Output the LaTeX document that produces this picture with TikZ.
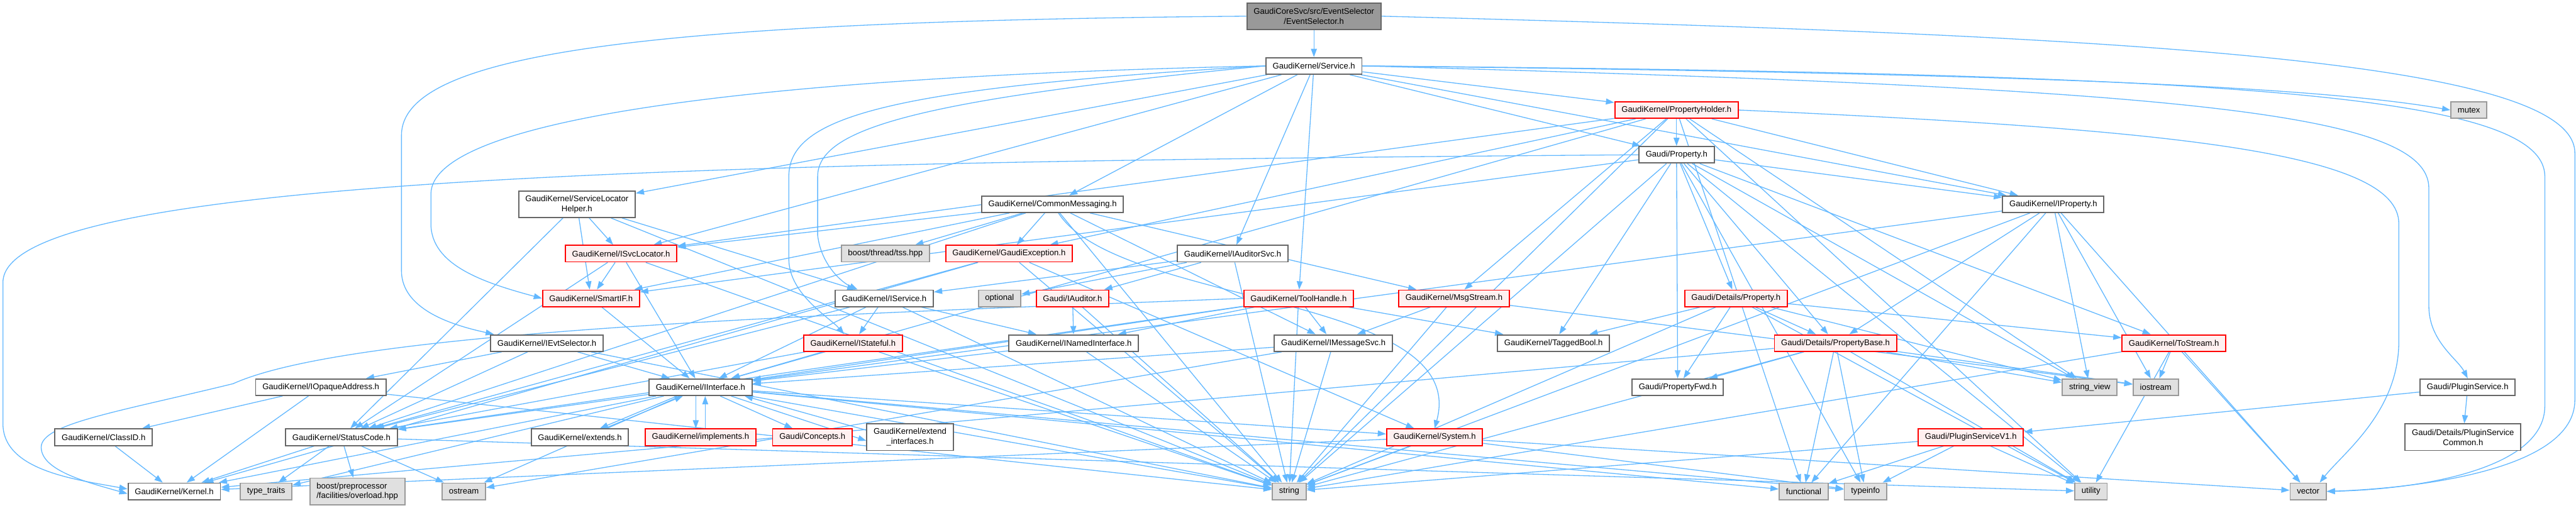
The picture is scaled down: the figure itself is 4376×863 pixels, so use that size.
\documentclass[tikz,border=0pt]{standalone}
\usepackage{fontspec}
\setmainfont{Liberation Sans}
\usetikzlibrary{arrows.meta,backgrounds}
\definecolor{edgeblue}{HTML}{63B8FF}
\definecolor{grey40}{HTML}{666666}
\definecolor{grey60}{HTML}{999999}
\definecolor{redfill}{HTML}{FFF0F0}
\definecolor{sysfill}{HTML}{E0E0E0}
\begin{document}
\begin{tikzpicture}[x=1pt, y=-1pt,
  box/.style={draw=grey40, fill=white, line width=2pt, font=\fontsize{14}{17}\selectfont,
    inner xsep=11.5pt, inner ysep=0pt, minimum height=28pt, align=center},
  twoline/.style={minimum height=45pt},
  redbox/.style={box, draw=red, fill=redfill},
  sysbox/.style={box, draw=grey60, fill=sysfill},
  topbox/.style={box, draw=grey40, fill=grey60},
  dep/.style={draw=edgeblue, line width=1.4pt, -{Triangle[length=14pt,width=10pt]}}]
  \useasboundingbox (0,0) rectangle (4376,863);
  % rows from top to bottom
  \node[topbox, twoline] (title) at (2232,27.5) {GaudiCoreSvc/src/EventSelector\\/EventSelector.h};
  \node[box] (service) at (2232,112) {GaudiKernel/Service.h};
  \node[redbox] (propholder) at (2848,187) {GaudiKernel/PropertyHolder.h};
  \node[sysbox] (mutex) at (4194,187) {mutex};
  \node[box] (property) at (2848,263) {Gaudi/Property.h};
  \node[box, twoline] (svclochelper) at (980,347) {GaudiKernel/ServiceLocator\\Helper.h};
  \node[box] (commonmsg) at (1788,347) {GaudiKernel/CommonMessaging.h};
  \node[box] (iproperty) at (3488,347) {GaudiKernel/IProperty.h};
  \node[redbox] (isvclocator) at (1055,431) {GaudiKernel/ISvcLocator.h};
  \node[sysbox] (tss) at (1504,431) {boost/thread/tss.hpp};
  \node[redbox] (gaudiexc) at (1714,431) {GaudiKernel/GaudiException.h};
  \node[box] (iauditorsvc) at (2094,431) {GaudiKernel/IAuditorSvc.h};
  \node[redbox] (smartif) at (1004,507) {GaudiKernel/SmartIF.h};
  \node[box] (iservice) at (1502,507) {GaudiKernel/IService.h};
  \node[sysbox] (optional) at (1698,507) {optional};
  \node[redbox] (iauditor) at (1822,507) {Gaudi/IAuditor.h};
  \node[redbox] (toolhandle) at (2206,507) {GaudiKernel/ToolHandle.h};
  \node[redbox] (msgstream) at (2470,507) {GaudiKernel/MsgStream.h};
  \node[redbox] (detprop) at (2949,507) {Gaudi/Details/Property.h};
  \node[box] (ievtsel) at (929,583) {GaudiKernel/IEvtSelector.h};
  \node[redbox] (istateful) at (1449,583) {GaudiKernel/IStateful.h};
  \node[box] (inamedif) at (1824,583) {GaudiKernel/INamedInterface.h};
  \node[box] (imsgsvc) at (2265,583) {GaudiKernel/IMessageSvc.h};
  \node[box] (taggedbool) at (2639,583) {GaudiKernel/TaggedBool.h};
  \node[redbox] (propbase) at (3118,583) {Gaudi/Details/PropertyBase.h};
  \node[redbox] (tostream) at (3693,583) {GaudiKernel/ToStream.h};
  \node[box] (iopaque) at (545,658) {GaudiKernel/IOpaqueAddress.h};
  \node[box] (iinterface) at (1190,658) {GaudiKernel/IInterface.h};
  \node[box] (propfwd) at (2850,658) {Gaudi/PropertyFwd.h};
  \node[sysbox] (stringview) at (3550,658) {string\_view};
  \node[sysbox] (iostream) at (3662,658) {iostream};
  \node[box] (pluginsvc) at (4192,658) {Gaudi/PluginService.h};
  \node[box] (classid) at (176,743) {GaudiKernel/ClassID.h};
  \node[box] (statuscode) at (580,743) {GaudiKernel/StatusCode.h};
  \node[box] (extends) at (985,743) {GaudiKernel/extends.h};
  \node[redbox] (implements) at (1190,743) {GaudiKernel/implements.h};
  \node[redbox] (concepts) at (1380,743) {Gaudi/Concepts.h};
  \node[box, twoline] (extendif) at (1546,743) {GaudiKernel/extend\\\_interfaces.h};
  \node[redbox] (system) at (2437,743) {GaudiKernel/System.h};
  \node[redbox] (pluginv1) at (3348,743) {Gaudi/PluginServiceV1.h};
  \node[box, twoline] (plugincommon) at (4184,743) {Gaudi/Details/PluginService\\Common.h};
  \node[box] (kernel) at (296,835) {GaudiKernel/Kernel.h};
  \node[sysbox] (typetraits) at (452,835) {type\_traits};
  \node[sysbox, twoline, align=left] (overload) at (607,835) {boost/preprocessor\\/facilities/overload.hpp};
  \node[sysbox] (ostream) at (788,835) {ostream};
  \node[sysbox] (string) at (2190,835) {string};
  \node[sysbox] (functional) at (3064,835) {functional};
  \node[sysbox] (typeinfo) at (3169,835) {typeinfo};
  \node[sysbox] (utility) at (3552,835) {utility};
  \node[sysbox] (vector) at (3921,835) {vector};

  \begin{pgfonlayer}{background}
  % the selector itself
  \draw[dep] (title) -- (service);
  \draw[dep] (title.west) .. controls (1100,36) and (682,90) .. (682,230) -- (682,460)
    .. controls (682,530) and (780,555) .. ([xshift=-90pt]ievtsel.north);
  \draw[dep] (title.east) .. controls (3600,60) and (4374,100) .. (4374,260) -- (4374,680)
    .. controls (4374,800) and (4100,830) .. (vector.east);
  % Service.h
  \foreach \t in {propholder,property,commonmsg,iauditorsvc,iproperty,svclochelper,isvclocator,toolhandle}
    \draw[dep] (service) -- (\t);
  \draw[dep] (service.west) .. controls (1300,130) and (732,200) .. (732,330) -- (732,380)
    .. controls (732,450) and (820,480) .. (smartif.west);
  \draw[dep] (service.west) .. controls (1500,150) and (1340,200) .. (1340,300) -- (1340,440)
    .. controls (1340,500) and (1410,540) .. ([xshift=-15pt]istateful.north);
  \draw[dep] (service.west) .. controls (1550,170) and (1389,220) .. (1389,300) -- (1389,400)
    .. controls (1395,450) and (1430,480) .. ([xshift=-45pt]iservice.north);
  \draw[dep] (service.east) .. controls (3500,125) and (3950,150) .. (mutex.west);
  \draw[dep] (service.east) .. controls (3700,150) and (4126,190) .. (4126,320) -- (4126,520)
    .. controls (4126,580) and (4175,610) .. (pluginsvc.north);
  \draw[dep] (service.east) .. controls (3800,125) and (4323,160) .. (4323,300) -- (4323,690)
    .. controls (4323,800) and (4100,832) .. (vector.east);
  % PropertyHolder.h
  \foreach \t in {property,iproperty,gaudiexc,isvclocator,iinterface,msgstream,string,stringview,utility,functional}
    \draw[dep] (propholder) -- (\t);
  \draw[dep] (propholder.east) .. controls (3700,220) and (4075,260) .. (4075,380) -- (4075,580)
    .. controls (4075,700) and (3980,770) .. ([xshift=-12pt]vector.north east);
  % Property.h
  \foreach \t in {detprop,propbase,propfwd,iproperty,smartif,taggedbool,tostream,string,stringview,utility,typeinfo}
    \draw[dep] (property) -- (\t);
  \draw[dep] (property.west) .. controls (1200,275) and (5,300) .. (5,480) -- (5,720)
    .. controls (5,800) and (130,815) .. ([yshift=4pt]kernel.west);
  % helpers and messaging
  \foreach \t in {isvclocator,smartif,iservice,statuscode,string}
    \draw[dep] (svclochelper) -- (\t);
  \foreach \t in {isvclocator,smartif,tss,gaudiexc,msgstream,imsgsvc,statuscode,string}
    \draw[dep] (commonmsg) -- (\t);
  \draw[dep] ([xshift=10pt]commonmsg.south) .. controls (1900,520) and (2500,500) .. (system.north);
  \foreach \t in {iinterface,propbase,string,stringview,iostream,vector,functional}
    \draw[dep] (iproperty) -- (\t);
  \foreach \t in {iinterface,smartif,statuscode,string}
    \draw[dep] (isvclocator) -- (\t);
  \foreach \t in {kernel,statuscode,system,string}
    \draw[dep] (gaudiexc) -- (\t);
  \foreach \t in {iservice,optional,iauditor,string}
    \draw[dep] (iauditorsvc) -- (\t);
  \draw[dep] (smartif) -- (iinterface);
  \foreach \t in {istateful,inamedif,iinterface,statuscode,string}
    \draw[dep] (iservice) -- (\t);
  \foreach \t in {inamedif,string}
    \draw[dep] (iauditor) -- (\t);
  \foreach \t in {iinterface,inamedif,imsgsvc,taggedbool,statuscode,string}
    \draw[dep] (toolhandle) -- (\t);
  \draw[dep] (toolhandle.west) .. controls (1400,535) and (600,560) .. (396,652)
    .. controls (200,700) and (70,720) .. (70,760) .. controls (70,800) and (150,820) .. ([yshift=-4pt]kernel.west);
  \foreach \t in {imsgsvc,string,iostream}
    \draw[dep] (msgstream) -- (\t);
  \foreach \t in {propbase,taggedbool,propfwd,tostream,string,stringview,utility}
    \draw[dep] (detprop) -- (\t);
  \foreach \t in {iinterface,iopaque,statuscode,string}
    \draw[dep] (ievtsel) -- (\t);
  \foreach \t in {iinterface,statuscode,string}
    \draw[dep] (istateful) -- (\t);
  \foreach \t in {iinterface,string}
    \draw[dep] (inamedif) -- (\t);
  \foreach \t in {iinterface,ostream,string}
    \draw[dep] (imsgsvc) -- (\t);
  \foreach \t in {propfwd,kernel,string,functional,typeinfo,utility,stringview,iostream}
    \draw[dep] (propbase) -- (\t);
  \foreach \t in {iostream,string,utility,vector}
    \draw[dep] (tostream) -- (\t);
  \foreach \t in {classid,kernel,string}
    \draw[dep] (iopaque) -- (\t);
  % IInterface and its helpers
  \foreach \t in {concepts,kernel,statuscode,system,ostream,string,typetraits,typeinfo,functional}
    \draw[dep] (iinterface) -- (\t);
  \draw[dep] ([xshift=-40pt]iinterface.south) -- ([xshift=34pt]extends.north);
  \draw[dep] ([xshift=42pt]extends.north) -- ([xshift=-30pt]iinterface.south);
  \draw[dep] ([xshift=-8pt]iinterface.south) -- ([xshift=-8pt]implements.north);
  \draw[dep] ([xshift=8pt]implements.north) -- ([xshift=8pt]iinterface.south);
  \draw[dep] ([xshift=52pt]iinterface.south) -- ([yshift=-6pt]extendif.west);
  \draw[dep] ([yshift=12pt]extendif.west) -- ([xshift=75pt]iinterface.south);
  \foreach \t in {pluginv1,plugincommon}
    \draw[dep] (pluginsvc) -- (\t);
  \draw[dep] (classid) -- (kernel);
  \foreach \t in {overload,kernel,typetraits,ostream,utility}
    \draw[dep] (statuscode) -- (\t);
  \foreach \t in {kernel,string,typeinfo,vector}
    \draw[dep] (system) -- (\t);
  \foreach \t in {functional,string,typeinfo,utility}
    \draw[dep] (pluginv1) -- (\t);
  \end{pgfonlayer}
\end{tikzpicture}
\end{document}
